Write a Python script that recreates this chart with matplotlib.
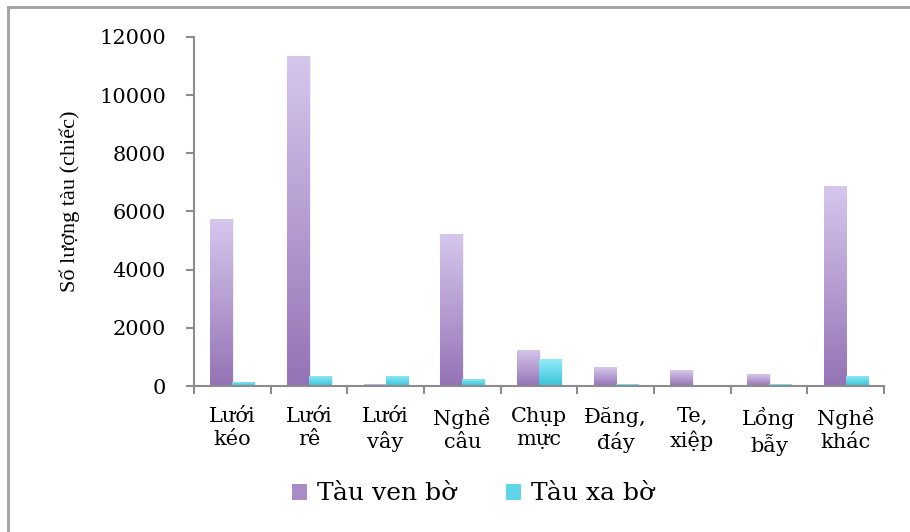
import numpy as np
import matplotlib
matplotlib.use("Agg")
import matplotlib.pyplot as plt
from matplotlib.colors import LinearSegmentedColormap
from matplotlib.patches import Rectangle, Patch

categories = ["Lưới\nkéo", "Lưới\nrê", "Lưới\nvây", "Nghề\ncâu", "Chụp\nmực",
              "Đăng,\nđáy", "Te,\nxiệp", "Lồng\nbẫy", "Nghề\nkhác"]
ven_bo = [5730, 11360, 60, 5220, 1240, 640, 540, 410, 6890]
xa_bo = [150, 350, 350, 250, 920, 60, 0, 55, 345]
series_names = ["Tàu ven bờ", "Tàu xa bờ"]

plt.rcParams["font.family"] = ["DejaVu Serif"]

purple_map = LinearSegmentedColormap.from_list("pur", ["#9473b5", "#d6c7ed"])
cyan_map = LinearSegmentedColormap.from_list("cya", ["#38c3db", "#94eaf7"])

fig = plt.figure(figsize=(9.1, 5.32), dpi=100)
ax = fig.add_axes([0.2132, 0.2744, 0.7582, 0.6561])

# outer frame (runs off the right and bottom edges)
fig.patches.append(Rectangle((8 / 910, -0.05), 1.2, 1 - 7 / 532 + 0.05,
                             transform=fig.transFigure, fill=False,
                             edgecolor="#a6a6a6", linewidth=2.2))

x = np.arange(len(categories))
width = 0.287


def gradient_bars(xpos, values, cmap):
    bars = ax.bar(xpos, values, width, color="none", edgecolor="none", zorder=2)
    grad = np.linspace(0, 1, 256).reshape(-1, 1)
    for bar, v in zip(bars, values):
        if v <= 0:
            continue
        x0 = bar.get_x()
        # soft shadow to the right of each bar
        ax.add_patch(Rectangle((x0 + 0.02, 0), bar.get_width(), v,
                               facecolor="#000000", alpha=0.06, zorder=1,
                               edgecolor="none"))
        im = ax.imshow(grad, cmap=cmap, aspect="auto", origin="lower",
                       extent=[x0, x0 + bar.get_width(), 0, v],
                       vmin=0, vmax=1, zorder=2)
        im.set_clip_path(bar)
    return bars


gradient_bars(x - width / 2, ven_bo, purple_map)
gradient_bars(x + width / 2, xa_bo, cyan_map)

ax.set_xlim(-0.5, len(categories) - 0.5)
ax.set_ylim(0, 12000)
ax.set_yticks(np.arange(0, 12001, 2000))
ax.tick_params(axis="y", labelsize=15, length=6, width=1.5, color="#8c8c8c",
               direction="out", pad=14)

ax.set_xticks(np.arange(-0.5, len(categories), 1.0))
ax.set_xticklabels([])
ax.set_xticks(x, minor=True)
ax.set_xticklabels(categories, minor=True, fontsize=15, linespacing=1.3)
ax.tick_params(axis="x", which="major", length=6, width=1.5, color="#8c8c8c",
               direction="out")
ax.tick_params(axis="x", which="minor", length=0, pad=15)

for side in ["top", "right"]:
    ax.spines[side].set_visible(False)
for side in ["left", "bottom"]:
    ax.spines[side].set_color("#8c8c8c")
    ax.spines[side].set_linewidth(1.5)

ax.set_ylabel("Số lượng tàu (chiếc)", fontsize=16,
              family=["Liberation Serif", "DejaVu Serif"])
ax.yaxis.set_label_coords(-0.165, 0.53)

handles = [Patch(facecolor="#a98bc8", edgecolor="none"),
           Patch(facecolor="#5fd3e8", edgecolor="none")]
fig.legend(handles, series_names, loc="center", bbox_to_anchor=(473 / 910, 1 - 494 / 532),
           ncol=2, frameon=False, fontsize=18, handlelength=0.6, handleheight=0.6,
           handletextpad=0.4, columnspacing=2.0)

fig.savefig("out.png", dpi=100)
